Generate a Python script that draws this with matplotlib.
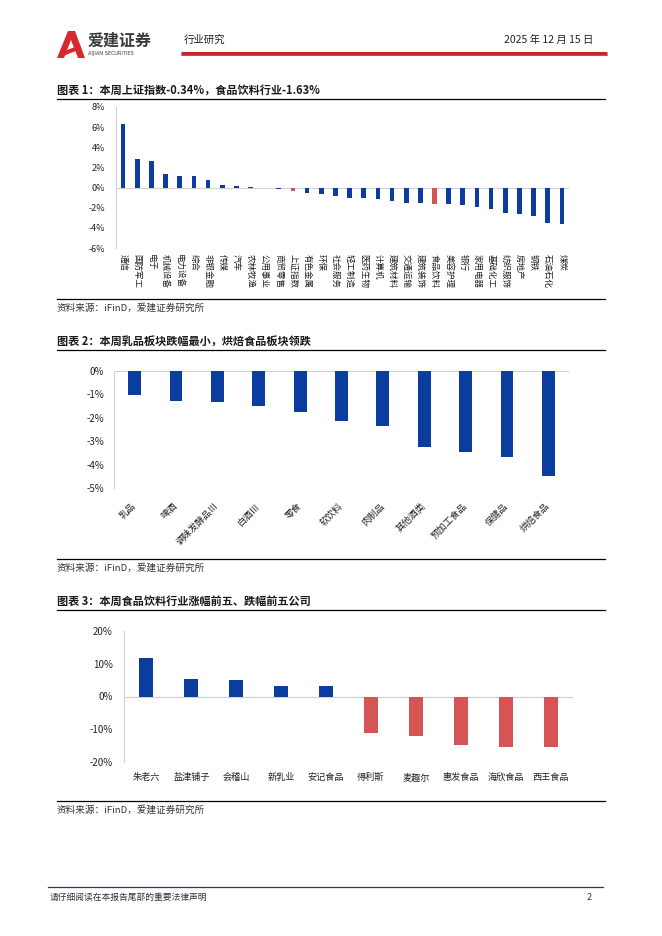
import numpy as np
import matplotlib.pyplot as plt
from matplotlib.patches import Polygon

plt.rcParams['font.family'] = ['Noto Sans CJK SC', 'DejaVu Sans']
plt.rcParams['axes.unicode_minus'] = False

# chart 1: industry weekly change (%)
ind_names = ['通信', '国防军工', '电子', '机械设备', '电力设备', '综合', '非银金融', '传媒',
             '汽车', '农林牧渔', '公用事业', '商贸零售', '上证指数', '有色金属', '环保',
             '社会服务', '轻工制造', '医药生物', '计算机', '建筑材料', '交通运输', '建筑装饰',
             '食品饮料', '美容护理', '银行', '家用电器', '基础化工', '纺织服饰', '房地产',
             '钢铁', '石油石化', '煤炭']
ind_vals = [6.30, 2.80, 2.67, 1.35, 1.15, 1.15, 0.76, 0.23, 0.13, 0.02, -0.02, -0.10,
            -0.34, -0.50, -0.63, -0.80, -1.02, -1.04, -1.15, -1.35, -1.55, -1.55, -1.63,
            -1.60, -1.74, -1.94, -2.14, -2.54, -2.63, -2.87, -3.53, -3.63]
ind_hl = ['上证指数', '食品饮料']

# chart 2: food & beverage sub-sectors (%)
sub_names = ['乳品', '啤酒', '调味发酵品Ⅲ', '白酒Ⅲ', '零食', '软饮料', '肉制品',
             '其他酒类', '预加工食品', '保健品', '烘焙食品']
sub_vals = [-1.04, -1.29, -1.35, -1.49, -1.76, -2.14, -2.34, -3.26, -3.45, -3.67, -4.48]

# chart 3: top 5 gainers / losers (%)
co_names = ['朱老六', '盐津铺子', '会稽山', '新乳业', '安记食品',
            '得利斯', '麦趣尔', '惠发食品', '海欣食品', '西王食品']
co_vals = [11.9, 5.2, 4.9, 3.3, 3.2, -11.2, -12.0, -14.8, -15.4, -15.4]

BLUE = '#0B3D9E'
RED = '#D65454'
W, H = 662, 936

fig = plt.figure(figsize=(W / 100, H / 100), dpi=100)


def box(x0, y0, x1, y1):
    return [x0 / W, 1 - y1 / H, (x1 - x0) / W, (y1 - y0) / H]


def style(ax, fs, pad):
    for s in ['top', 'right', 'bottom']:
        ax.spines[s].set_visible(False)
    ax.spines['left'].set_color('#d0d0d0')
    ax.spines['left'].set_linewidth(0.8)
    ax.axhline(0, color='#d0d0d0', lw=0.8, zorder=1)
    ax.tick_params(axis='both', length=0, labelsize=fs, colors='#222222')
    ax.tick_params(axis='y', pad=pad)
    ax.yaxis.set_major_formatter(plt.FuncFormatter(lambda v, p: f'{v:.0f}%'))


# overlay for page decorations in pixel coords
page = fig.add_axes([0, 0, 1, 1])
page.set_xlim(0, W)
page.set_ylim(H, 0)
page.axis('off')

# logo
page.add_patch(Polygon([[57, 58], [68, 31], [75, 31], [85, 58], [78, 58], [71, 40],
                        [64, 58]], closed=True, color='#D7282F', lw=0))
page.add_patch(Polygon([[62, 52], [80, 45], [81, 49], [63, 56]], closed=True,
                       color='#D7282F', lw=0))
page.text(88, 41, '爱建证券', fontsize=11.5, fontweight='bold', color='#3a3a3a', va='center')
page.text(88, 54, 'AIJIAN SECURITIES', fontsize=3.6, color='#3a3a3a', va='center',
          family='DejaVu Sans')
page.text(184, 40, '行业研究', fontsize=7.5, color='#222222', va='center')
page.text(593, 40, '2025 年 12 月 15 日', fontsize=7.5, color='#222222', va='center', ha='right')
page.plot([181, 607], [53, 53], color='#C8232C', lw=2.2, solid_capstyle='butt')
page.plot([181, 607], [54.8, 54.8], color='#5a2a2a', lw=0.5)

# footer
page.plot([48, 603], [887, 887], color='#1F3864', lw=0.9)
page.text(50, 897, '请仔细阅读在本报告尾部的重要法律声明', fontsize=6.3, color='#333333', va='center')
page.text(592, 897, '2', fontsize=6.5, color='#333333', va='center', ha='right')

# chart titles, rules and sources
titles = ['图表 1：本周上证指数-0.34%，食品饮料行业-1.63%',
          '图表 2：本周乳品板块跌幅最小，烘焙食品板块领跌',
          '图表 3：本周食品饮料行业涨幅前五、跌幅前五公司']
title_y = [90, 341, 601]
rule_top = [99, 350, 610]
rule_bot = [299, 559, 801]
for t, ty, r0, r1 in zip(titles, title_y, rule_top, rule_bot):
    page.text(57, ty, t, fontsize=8.0, fontweight='bold', color='#1a1a1a', va='center')
    page.plot([57, 605], [r0, r0], color='black', lw=0.9)
    page.plot([57, 605], [r1, r1], color='black', lw=0.9)
    page.text(57, r1 + 9, '资料来源：iFinD，爱建证券研究所', fontsize=6.9, color='#333333',
              va='center')

# chart 1
ax1 = fig.add_axes(box(116, 107, 569, 248))
x1 = np.arange(len(ind_names))
c1 = [RED if n in ind_hl else BLUE for n in ind_names]
ax1.bar(x1, ind_vals, width=0.33, color=c1, zorder=2)
ax1.set_xlim(-0.5, len(ind_names) - 0.5)
ax1.set_ylim(-6, 8)
ax1.set_yticks(np.arange(-6, 9, 2))
style(ax1, 6.5, 8)
ax1.set_xticks(x1)
ax1.set_xticklabels(ind_names, rotation=-90, ha='center', va='top', fontsize=6.1)
ax1.tick_params(axis='x', pad=4)

# chart 2
ax2 = fig.add_axes(box(114, 370.7, 569, 488))
x2 = np.arange(len(sub_names))
ax2.bar(x2, sub_vals, width=0.31, color=BLUE, zorder=2)
ax2.set_xlim(-0.5, len(sub_names) - 0.5)
ax2.set_ylim(-5, 0)
ax2.set_yticks(np.arange(-5, 1, 1))
style(ax2, 7, 7)
ax2.set_xticks(x2)
ax2.set_xticklabels(sub_names, rotation=45, ha='right', va='center',
                    rotation_mode='anchor', fontsize=6.7)
ax2.tick_params(axis='x', pad=12)

# chart 3
ax3 = fig.add_axes(box(124, 631, 573, 762))
x3 = np.arange(len(co_names))
c3 = [BLUE if v > 0 else RED for v in co_vals]
ax3.bar(x3, co_vals, width=0.31, color=c3, zorder=2)
ax3.set_xlim(-0.5, len(co_names) - 0.5)
ax3.set_ylim(-20, 20)
ax3.set_yticks(np.arange(-20, 21, 10))
style(ax3, 7, 8)
ax3.set_xticks(x3)
ax3.set_xticklabels(co_names, fontsize=6.6)
ax3.tick_params(axis='x', pad=8)

fig.savefig('out.png', dpi=100)
